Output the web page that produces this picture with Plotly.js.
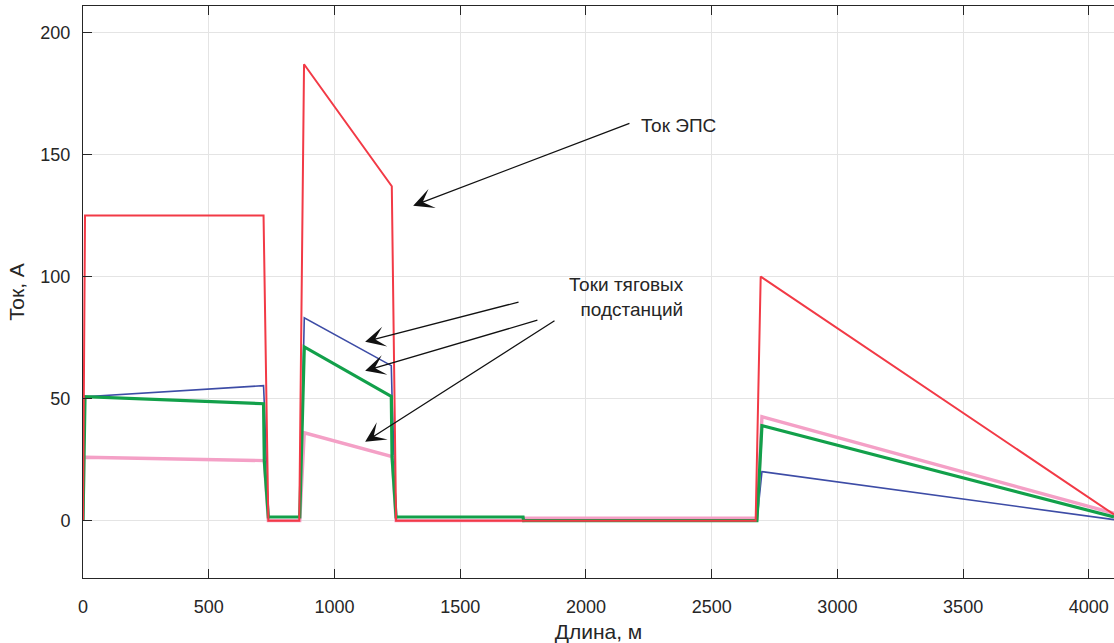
<!DOCTYPE html>
<html>
<head>
<meta charset="utf-8">
<script src="https://cdn.plot.ly/plotly-3.0.1.min.js"></script>
<style>html,body{margin:0;padding:0;background:#fff;overflow:hidden}#chart{width:1114px;height:643px}</style>
</head>
<body>
<div id="chart"></div>
<script>
// Ток ЭПС (red)
const epsX = [0, 8, 718, 737, 860, 879, 1228, 1245, 2675, 2695, 4100];
const epsY = [0, 125, 125, 0, 0, 187, 137, 0, 0, 100, 2.5];

// Токи тяговых подстанций
const blueX = [0, 8, 718, 721, 737, 862, 880, 1226, 1229, 1245, 2680, 2700, 4100];
const blueY = [0, 50.8, 55.3, 48, 0, 0, 83.1, 63.5, 51, 0, 0, 20.1, 0.4];

const greenX = [0, 3, 8, 718, 721, 737, 862, 880, 1226, 1229, 1245, 1750, 1752, 2680, 2700, 4100];
const greenY = [0, 25.8, 50.8, 47.9, 24.6, 1.5, 1.5, 71.2, 50.9, 26.2, 1.5, 1.5, 0, 0, 38.9, 1.5];

const pinkX = [0, 3, 8, 718, 721, 737, 862, 880, 1226, 1229, 1245, 1750, 1752, 2680, 2700, 4100];
const pinkY = [0, 25.8, 26.0, 24.6, 24.6, 0, 0, 36.0, 26.2, 26.2, 0, 0, 1, 1, 42.6, 3];

const xTicks = [0, 500, 1000, 1500, 2000, 2500, 3000, 3500, 4000];
const yTicks = [0, 50, 100, 150, 200];

const labelEps = "Ток ЭПС";
const labelSub = "Токи тяговых<br>подстанций";
const xTitle = "Длина, м";
const yTitle = "Ток, А";

const FONT = "Liberation Sans, Arial, sans-serif";
const TXT = "#262626";

const traces = [
  {x: blueX, y: blueY, mode: "lines", line: {color: "#3d4ca6", width: 1.6}},
  {x: pinkX, y: pinkY, mode: "lines", line: {color: "#f4a0c6", width: 3.4}},
  {x: greenX, y: greenY, mode: "lines", line: {color: "#12a04a", width: 3.2}},
  {x: epsX, y: epsY, mode: "lines", line: {color: "#f23a46", width: 2}}
];

const arrowCommon = {
  xref: "x", yref: "y", axref: "x", ayref: "y",
  showarrow: true, arrowhead: 3, arrowsize: 2.6, arrowwidth: 1.3,
  arrowcolor: "#111111", text: ""
};

const layout = {
  width: 1114, height: 643,
  margin: {l: 83, r: 0, t: 6, b: 65},
  paper_bgcolor: "#fff", plot_bgcolor: "#fff",
  showlegend: false,
  font: {family: FONT, size: 18, color: TXT},
  xaxis: {
    range: [0, 4100], tickvals: xTicks, ticktext: xTicks.map(String),
    ticks: "inside", ticklen: 9, tickcolor: TXT, tickwidth: 1,
    showline: true, linecolor: TXT, linewidth: 1, mirror: "ticks",
    showgrid: true, gridcolor: "#e4e4e4", gridwidth: 1, zeroline: false,
    ticklabelstandoff: 12,
    tickfont: {family: FONT, size: 18, color: TXT},
    title: {text: xTitle, font: {family: FONT, size: 21, color: TXT}, standoff: 8}
  },
  yaxis: {
    range: [-23.5, 210.85], tickvals: yTicks, ticktext: yTicks.map(String),
    ticks: "inside", ticklen: 9, tickcolor: TXT, tickwidth: 1,
    showline: true, linecolor: TXT, linewidth: 1, mirror: false,
    showgrid: true, gridcolor: "#e4e4e4", gridwidth: 1, zeroline: false,
    ticklabelstandoff: 8,
    tickfont: {family: FONT, size: 18, color: TXT},
    title: {text: yTitle, font: {family: FONT, size: 21, color: TXT}, standoff: 10}
  },
  annotations: [
    {xref: "x", yref: "y", x: 2211, y: 161.9, text: labelEps, showarrow: false,
     xanchor: "left", yanchor: "middle", font: {family: FONT, size: 19, color: TXT}},
    {xref: "x", yref: "y", x: 2397, y: 91.5, text: labelSub, showarrow: false,
     xanchor: "right", yanchor: "middle", align: "right", font: {family: FONT, size: 19, color: TXT}},
    Object.assign({}, arrowCommon, {x: 1313, y: 129, ax: 2179, ay: 163}),
    Object.assign({}, arrowCommon, {x: 1122, y: 73.3, ax: 1738, ay: 89.7}),
    Object.assign({}, arrowCommon, {x: 1122, y: 61.4, ax: 1813, ay: 82.3}),
    Object.assign({}, arrowCommon, {x: 1122, y: 32.3, ax: 1881, ay: 82.3})
  ]
};

Plotly.newPlot("chart", traces, layout, {staticPlot: true, displayModeBar: false});
</script>
</body>
</html>
